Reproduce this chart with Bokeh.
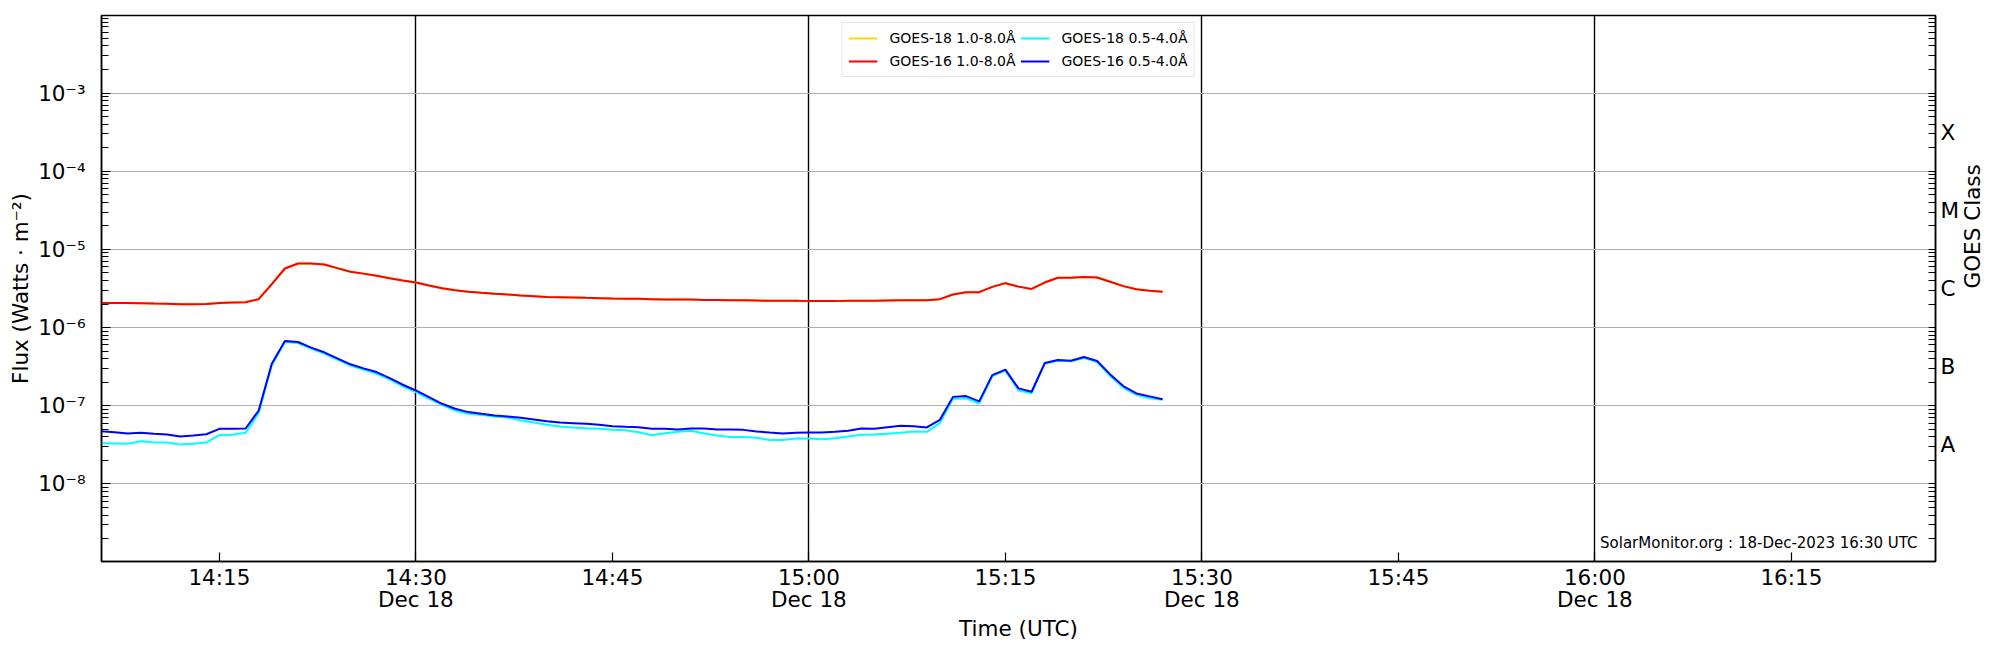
import math
from datetime import datetime
from bokeh.plotting import figure
from bokeh.models import (FixedTicker, LogAxis, Range1d, Label, Legend,
                          LegendItem, ColumnDataSource)
from bokeh.embed import file_html
from bokeh.resources import INLINE

DAY = "2023-12-18"

# one-minute GOES XRS samples, 14:06 .. 15:27 UTC
times = ["14:06", "14:07", "14:08", "14:09", "14:10", "14:11", "14:12", "14:13", "14:14", "14:15",
         "14:16", "14:17", "14:18", "14:19", "14:20", "14:21", "14:22", "14:23", "14:24", "14:25",
         "14:26", "14:27", "14:28", "14:29", "14:30", "14:31", "14:32", "14:33", "14:34", "14:35",
         "14:36", "14:37", "14:38", "14:39", "14:40", "14:41", "14:42", "14:43", "14:44", "14:45",
         "14:46", "14:47", "14:48", "14:49", "14:50", "14:51", "14:52", "14:53", "14:54", "14:55",
         "14:56", "14:57", "14:58", "14:59", "15:00", "15:01", "15:02", "15:03", "15:04", "15:05",
         "15:06", "15:07", "15:08", "15:09", "15:10", "15:11", "15:12", "15:13", "15:14", "15:15",
         "15:16", "15:17", "15:18", "15:19", "15:20", "15:21", "15:22", "15:23", "15:24", "15:25",
         "15:26", "15:27"]

# GOES-16 1.0-8.0 A (W m^-2)
xrs16_long = [2.07e-6, 2.07e-6, 2.07e-6, 2.05e-6, 2.03e-6, 2.02e-6, 1.99e-6, 1.99e-6, 2.00e-6, 2.07e-6,
              2.10e-6, 2.11e-6, 2.31e-6, 3.60e-6, 5.70e-6, 6.60e-6, 6.60e-6, 6.40e-6, 5.76e-6, 5.18e-6,
              4.90e-6, 4.60e-6, 4.28e-6, 4.00e-6, 3.77e-6, 3.45e-6, 3.19e-6, 3.01e-6, 2.87e-6, 2.78e-6,
              2.70e-6, 2.65e-6, 2.57e-6, 2.52e-6, 2.47e-6, 2.45e-6, 2.43e-6, 2.40e-6, 2.38e-6, 2.35e-6,
              2.33e-6, 2.33e-6, 2.31e-6, 2.29e-6, 2.29e-6, 2.29e-6, 2.26e-6, 2.26e-6, 2.24e-6, 2.24e-6,
              2.22e-6, 2.20e-6, 2.20e-6, 2.20e-6, 2.18e-6, 2.18e-6, 2.18e-6, 2.20e-6, 2.20e-6, 2.20e-6,
              2.22e-6, 2.24e-6, 2.24e-6, 2.24e-6, 2.31e-6, 2.65e-6, 2.84e-6, 2.84e-6, 3.32e-6, 3.70e-6,
              3.34e-6, 3.12e-6, 3.77e-6, 4.34e-6, 4.34e-6, 4.42e-6, 4.38e-6, 3.85e-6, 3.39e-6, 3.10e-6,
              2.95e-6, 2.87e-6]

# GOES-18 1.0-8.0 A: indistinguishable from GOES-16 in the picture (hidden below it)
xrs18_long = list(xrs16_long)

# GOES-16 0.5-4.0 A
xrs16_short = [4.73e-8, 4.59e-8, 4.42e-8, 4.51e-8, 4.38e-8, 4.29e-8, 4.04e-8, 4.17e-8, 4.33e-8, 5.07e-8,
               5.07e-8, 5.12e-8, 8.71e-8, 3.45e-7, 6.75e-7, 6.55e-7, 5.54e-7, 4.83e-7, 4.05e-7, 3.39e-7,
               3.01e-7, 2.70e-7, 2.26e-7, 1.86e-7, 1.57e-7, 1.29e-7, 1.06e-7, 9.16e-8, 8.30e-8, 7.89e-8,
               7.51e-8, 7.30e-8, 7.02e-8, 6.68e-8, 6.36e-8, 6.11e-8, 6.00e-8, 5.88e-8, 5.71e-8, 5.48e-8,
               5.38e-8, 5.33e-8, 5.07e-8, 5.07e-8, 4.97e-8, 5.12e-8, 5.12e-8, 4.97e-8, 4.97e-8, 4.92e-8,
               4.69e-8, 4.55e-8, 4.42e-8, 4.51e-8, 4.55e-8, 4.55e-8, 4.64e-8, 4.78e-8, 5.12e-8, 5.07e-8,
               5.33e-8, 5.54e-8, 5.48e-8, 5.28e-8, 6.62e-8, 1.30e-7, 1.33e-7, 1.14e-7, 2.47e-7, 2.90e-7,
               1.67e-7, 1.51e-7, 3.52e-7, 3.85e-7, 3.77e-7, 4.21e-7, 3.74e-7, 2.52e-7, 1.79e-7, 1.44e-7,
               1.32e-7, 1.21e-7]

# GOES-18 0.5-4.0 A
xrs18_short = [3.32e-8, 3.29e-8, 3.26e-8, 3.52e-8, 3.39e-8, 3.39e-8, 3.19e-8, 3.26e-8, 3.39e-8, 4.20e-8,
               4.25e-8, 4.51e-8, 8.05e-8, 3.29e-7, 6.55e-7, 6.35e-7, 5.38e-7, 4.64e-7, 3.89e-7, 3.26e-7,
               2.90e-7, 2.57e-7, 2.18e-7, 1.77e-7, 1.50e-7, 1.23e-7, 1.03e-7, 8.71e-8, 7.89e-8, 7.65e-8,
               7.30e-8, 7.09e-8, 6.49e-8, 6.11e-8, 5.71e-8, 5.43e-8, 5.28e-8, 5.17e-8, 5.07e-8, 4.92e-8,
               4.87e-8, 4.59e-8, 4.20e-8, 4.46e-8, 4.64e-8, 4.78e-8, 4.42e-8, 4.17e-8, 4.00e-8, 4.00e-8,
               3.89e-8, 3.66e-8, 3.66e-8, 3.81e-8, 3.81e-8, 3.74e-8, 3.85e-8, 4.04e-8, 4.25e-8, 4.29e-8,
               4.38e-8, 4.51e-8, 4.69e-8, 4.64e-8, 6.00e-8, 1.23e-7, 1.25e-7, 1.07e-7, 2.40e-7, 2.81e-7,
               1.57e-7, 1.45e-7, 3.45e-7, 3.77e-7, 3.70e-7, 4.08e-7, 3.63e-7, 2.40e-7, 1.70e-7, 1.38e-7,
               1.25e-7, 1.19e-7]

series_labels = ["GOES-18 1.0-8.0Å", "GOES-16 1.0-8.0Å", "GOES-18 0.5-4.0Å", "GOES-16 0.5-4.0Å"]

x_tick_times = ["14:15", "14:30", "14:45", "15:00", "15:15", "15:30", "15:45", "16:00", "16:15"]
x_tick_labels = ["14:15", "14:30\nDec 18", "14:45", "15:00\nDec 18", "15:15",
                 "15:30\nDec 18", "15:45", "16:00\nDec 18", "16:15"]
half_hours = ["14:30", "15:00", "15:30", "16:00"]
x_start, x_end = "14:06", "16:26"

y_ticks = [1e-8, 1e-7, 1e-6, 1e-5, 1e-4, 1e-3]
y_tick_labels = ["10⁻⁸", "10⁻⁷", "10⁻⁶", "10⁻⁵", "10⁻⁴", "10⁻³"]
goes_classes = ["A", "B", "C", "M", "X"]
class_levels = [10 ** -7.5, 10 ** -6.5, 10 ** -5.5, 10 ** -4.5, 10 ** -3.5]
y_low, y_high = 1.02e-9, 9.8e-3

watermark = "SolarMonitor.org : 18-Dec-2023 16:30 UTC"
right_title = "GOES Class"
# span of the title-only right axis: its midpoint sets where the rotated title starts
right_title_bounds = (1.02e-9, 2.265e-4)

EPOCH = datetime(1970, 1, 1)


def to_ms(hm):
    dt = datetime.strptime(DAY + " " + hm, "%Y-%m-%d %H:%M")
    return (dt - EPOCH).total_seconds() * 1000.0


FONT = "DejaVu Sans"

p = figure(width=2000, height=650, x_axis_type="datetime", y_axis_type="log",
           x_range=Range1d(to_ms(x_start), to_ms(x_end)),
           y_range=Range1d(y_low, y_high),
           output_backend="svg", toolbar_location=None,
           min_border_left=101, min_border_right=60, min_border_top=15, min_border_bottom=89)
p.background_fill_color = "white"
p.border_fill_color = "white"
p.outline_line_color = "black"
p.outline_line_width = 1.5

src = ColumnDataSource(dict(t=[to_ms(s) for s in times], l18=xrs18_long, l16=xrs16_long,
                            s18=xrs18_short, s16=xrs16_short))

r_l18 = p.line("t", "l18", source=src, line_color="gold", line_width=2)
r_s18 = p.line("t", "s18", source=src, line_color="cyan", line_width=2)
r_l16 = p.line("t", "l16", source=src, line_color="red", line_width=2)
r_s16 = p.line("t", "s16", source=src, line_color="blue", line_width=2)

# grids
p.ygrid.ticker = FixedTicker(ticks=y_ticks)
p.ygrid.grid_line_color = "#b0b0b0"
p.ygrid.grid_line_width = 1.2
p.xgrid.ticker = FixedTicker(ticks=[to_ms(h) for h in half_hours])
p.xgrid.grid_line_color = "black"
p.xgrid.grid_line_width = 1.4

minor = [k * 10.0 ** n for n in range(-9, -2) for k in range(2, 10)]

# x axis
xax = p.xaxis[0]
x_tick_ms = [to_ms(h) for h in x_tick_times]
xax.ticker = FixedTicker(ticks=x_tick_ms)
xax.major_label_overrides = {ms: lab for ms, lab in zip(x_tick_ms, x_tick_labels)}
xax.axis_label = "Time (UTC)"

# left axis
yax = p.yaxis[0]
yax.ticker = FixedTicker(ticks=y_ticks, minor_ticks=minor)
yax.major_label_overrides = {v: lab for v, lab in zip(y_ticks, y_tick_labels)}
yax.axis_label = "Flux (Watts · m⁻²)"

# right axis with GOES classes
rax = LogAxis(ticker=FixedTicker(ticks=class_levels, minor_ticks=minor + y_ticks),
              major_label_overrides={v: c for v, c in zip(class_levels, goes_classes)})
p.add_layout(rax, "right")

# outer right axis that only carries the title
tax = LogAxis(ticker=FixedTicker(ticks=[], minor_ticks=[]), axis_label=right_title,
              bounds=right_title_bounds)
p.add_layout(tax, "right")

for ax in (xax, yax, rax, tax):
    ax.axis_line_color = "black"
    ax.axis_line_width = 1.5
    ax.major_tick_line_color = "black"
    ax.minor_tick_line_color = "black"
    ax.major_tick_line_width = 1.2
    ax.minor_tick_line_width = 1.0
    ax.major_tick_out = 0
    ax.minor_tick_out = 0
    ax.major_tick_in = 9
    ax.minor_tick_in = 7
    ax.major_label_text_font = FONT
    ax.major_label_text_font_size = "21.5px"
    ax.major_label_text_color = "black"
    ax.axis_label_text_font = FONT
    ax.axis_label_text_font_size = "21.5px"
    ax.axis_label_text_font_style = "normal"
    ax.axis_label_text_color = "black"

xax.major_label_standoff = 3
xax.major_label_text_line_height = 0.9
xax.axis_label_standoff = 1
yax.major_label_standoff = 16
yax.axis_label_standoff = 2
rax.major_tick_in = 0
rax.major_label_standoff = 5
tax.axis_line_color = None
tax.major_tick_in = 0
tax.minor_tick_in = 0
tax.major_label_standoff = 0
tax.axis_label_standoff = 10
# make the right-hand title read bottom-to-top, like the left one
if "axis_label_orientation" in tax.properties():
    tax.axis_label_orientation = math.pi / 2

legend = Legend(items=[LegendItem(label=series_labels[0], renderers=[r_l18]),
                       LegendItem(label=series_labels[1], renderers=[r_l16]),
                       LegendItem(label=series_labels[2], renderers=[r_s18]),
                       LegendItem(label=series_labels[3], renderers=[r_s16])],
                location="top_center", ncols=2,
                label_text_font=FONT, label_text_font_size="14px", label_text_color="black",
                glyph_width=29, glyph_height=18, spacing=5, padding=6, margin=7,
                label_standoff=12, border_line_color="#cccccc", border_line_width=1,
                background_fill_alpha=0.8)
p.add_layout(legend)

p.add_layout(Label(x=1816, y=10, x_units="screen", y_units="screen", text=watermark,
                   text_align="right", text_baseline="bottom",
                   text_font=FONT, text_font_size="15px", text_color="black"))

open("out.html", "w").write(file_html(p, INLINE))
